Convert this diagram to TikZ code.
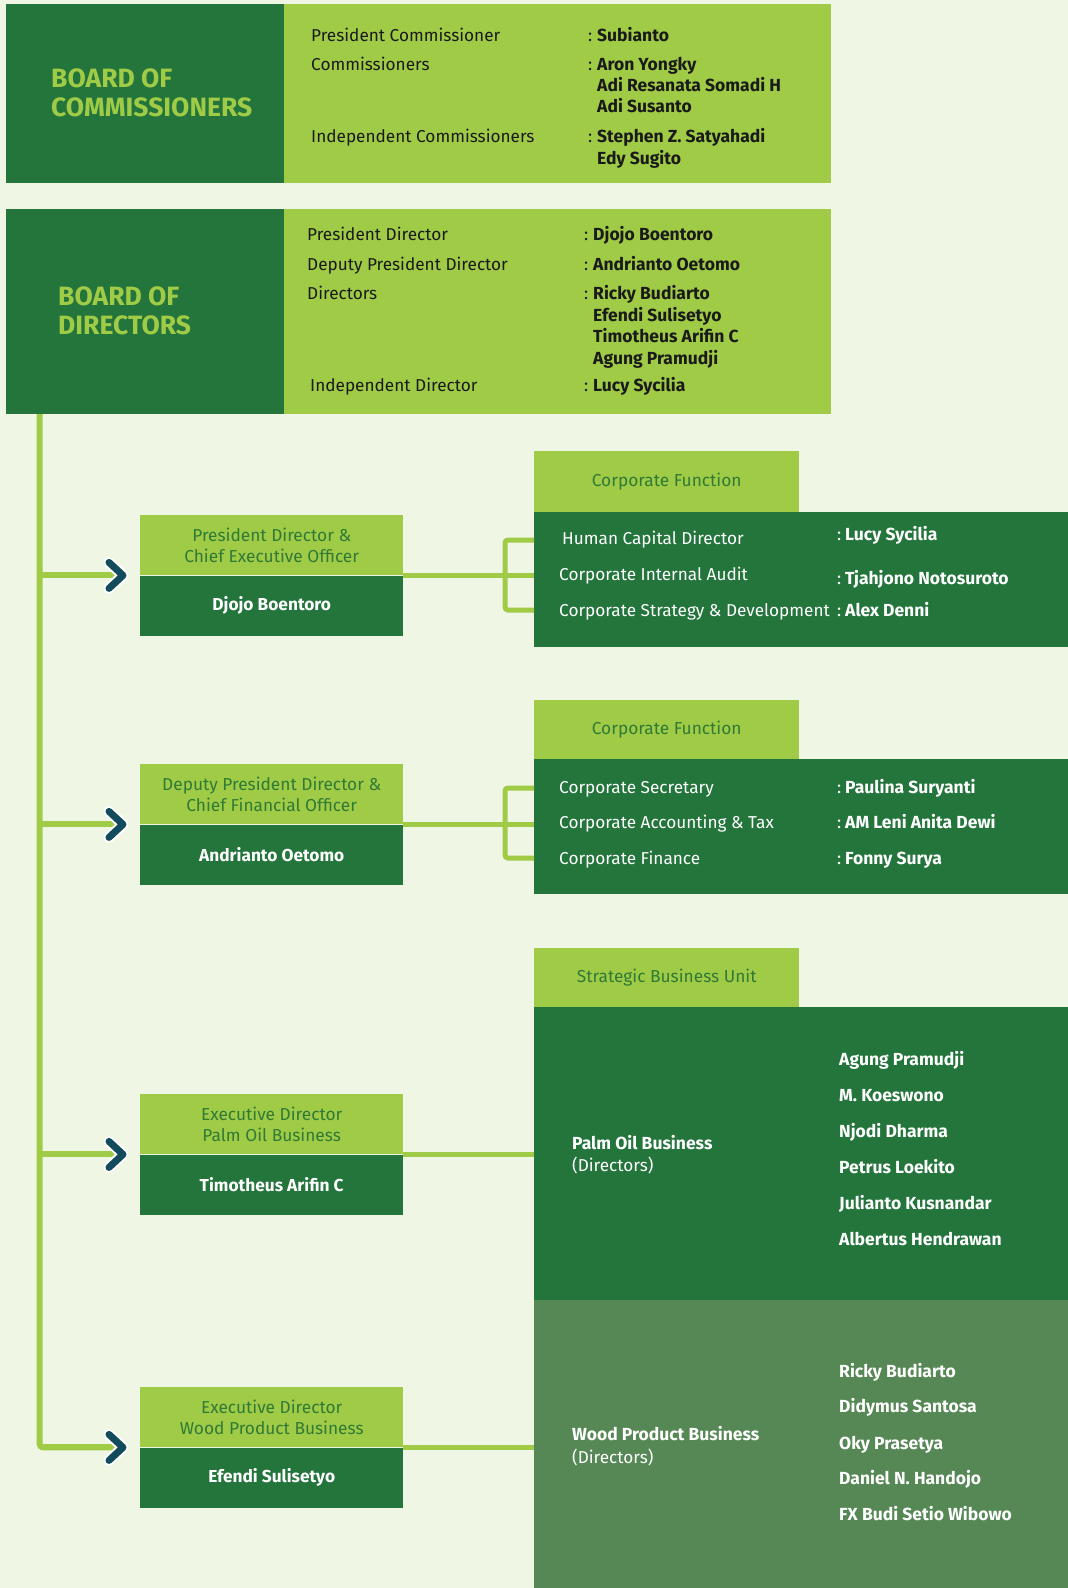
\documentclass[tikz,border=0pt]{standalone}
\usepackage{fontspec}
\setmainfont{Fira Sans}
\usetikzlibrary{positioning}

\definecolor{bgcol}{HTML}{EFF6E3}
\definecolor{darkgreen}{HTML}{23753C}
\definecolor{lightgreen}{HTML}{A0CB46}
\definecolor{woodgreen}{HTML}{558855}
\definecolor{hdrtext}{HTML}{2F7A36}
\definecolor{chevcol}{HTML}{124B5C}
\definecolor{inkcol}{HTML}{1A1A1A}

\tikzset{
	darkbox/.style={fill=darkgreen, inner sep=0pt, anchor=north west},
	lightbox/.style={fill=lightgreen, inner sep=0pt, anchor=north west},
	boardtitle/.style={anchor=west, align=left, inner sep=0pt, text=lightgreen,
		font=\fontsize{26.5}{29}\selectfont\bfseries},
	rolehead/.style={lightbox, minimum width=263pt, minimum height=60pt, align=center,
		text=hdrtext, font=\fontsize{17.3}{21.5}\selectfont},
	rolename/.style={fill=darkgreen, inner sep=0pt, minimum width=263pt, minimum height=60pt,
		text=white, font=\fontsize{17.3}{20}\selectfont\bfseries},
	unithead/.style={lightbox, minimum width=265pt, minimum height=60pt,
		text=hdrtext, font=\fontsize{17.3}{20}\selectfont},
	lbl/.style={anchor=mid west, inner sep=0pt, yshift=-4pt, text=inkcol, font=\fontsize{17.2}{20}\selectfont},
	who/.style={lbl, font=\fontsize{17.5}{20}\selectfont\bfseries},
	spine/.style={draw=lightgreen, line width=6pt},
	link/.style={draw=lightgreen, line width=5pt},
	chevronhalo/.style={draw=white, line width=11pt, line cap=round, line join=round},
	chevron/.style={draw=chevcol, line width=7pt, line cap=round, line join=round}
}

\begin{document}
\begin{tikzpicture}[x=1pt,y=-1pt]
	\useasboundingbox (0,0) rectangle (1068,1588);
	\fill[bgcol] (0,0) rectangle (1068,1588);
	
	% Board of Commissioners
	\node[darkbox, minimum width=278pt, minimum height=179pt] (boc) at (6,4) {};
	\node[lightbox, minimum width=547pt, minimum height=179pt] (boc-list) at (284,4) {};
	\node[boardtitle] (boc-title) at (51,93) {BOARD OF\\COMMISSIONERS};
	\foreach \y/\txt [count=\i] in {35/President Commissioner, 64/Commissioners, 136/Independent Commissioners} {
		\node[lbl] (boc-l\i) at (311,\y) {\txt};
		\node[lbl] (boc-c\i) at (588,\y) {:};
	}
	\foreach \y/\txt [count=\i] in {35/Subianto, 64/Aron Yongky, 85/Adi Resanata Somadi H, 106/Adi Susanto, 136/Stephen Z. Satyahadi, 158/Edy Sugito} {
		\node[who] (boc-n\i) at (597,\y) {\txt};
	}
	
	% Board of Directors
	\node[darkbox, minimum width=278pt, minimum height=205pt] (bod) at (6,209) {};
	\node[lightbox, minimum width=547pt, minimum height=205pt] (bod-list) at (284,209) {};
	\node[boardtitle] (bod-title) at (58,311) {BOARD OF\\DIRECTORS};
	\foreach \x/\y/\txt [count=\i] in {307/234/President Director, 307/264/Deputy President Director, 307/293/Directors, 310/385/Independent Director} {
		\node[lbl] (bod-l\i) at (\x,\y) {\txt};
		\node[lbl] (bod-c\i) at (584,\y) {:};
	}
	\foreach \y/\txt [count=\i] in {234/Djojo Boentoro, 264/Andrianto Oetomo, 293/Ricky Budiarto, 315/Efendi Sulisetyo, 336/Timotheus Arifin C, 358/Agung Pramudji, 385/Lucy Sycilia} {
		\node[who] (bod-n\i) at (593,\y) {\txt};
	}
	
	% Direksi und ihre Bereiche
	\foreach \id/\ytop/\head/\name in {
		ceo/515/{President Director \&\\Chief Executive Officer}/Djojo Boentoro,
		cfo/764/{Deputy President Director \&\\Chief Financial Officer}/Andrianto Oetomo,
		pob/1094/{Executive Director\\Palm Oil Business}/Timotheus Arifin C,
		wpb/1387/{Executive Director\\Wood Product Business}/Efendi Sulisetyo} {
		\node[rolehead] (\id-head) at (140,\ytop) {\head};
		\node[rolename, below=0pt of \id-head] (\id) {\name};
	}
	
	% Corporate Function (CEO)
	\node[unithead, minimum height=61pt] (cf1-head) at (534,451) {Corporate Function};
	\node[darkbox, minimum width=534pt, minimum height=135pt] (cf1) at (534,512) {};
	\foreach \x/\y/\txt [count=\i] in {562/538/Human Capital Director, 559/574/Corporate Internal Audit, 559/610/Corporate Strategy \& Development} {
		\node[lbl, text=white] (cf1-r\i) at (\x,\y) {\txt};
	}
	\foreach \y/\txt [count=\i] in {534/Lucy Sycilia, 578/Tjahjono Notosuroto, 610/Alex Denni} {
		\node[lbl, text=white] (cf1-c\i) at (837,\y) {:};
		\node[who, text=white] (cf1-n\i) at (845,\y) {\txt};
	}
	
	% Corporate Function (CFO)
	\node[unithead, minimum height=59pt] (cf2-head) at (534,700) {Corporate Function};
	\node[darkbox, minimum width=534pt, minimum height=135pt] (cf2) at (534,759) {};
	\foreach \y/\txt/\who [count=\i] in {787/Corporate Secretary/Paulina Suryanti, 822/Corporate Accounting \& Tax/AM Leni Anita Dewi, 858/Corporate Finance/Fonny Surya} {
		\node[lbl, text=white] (cf2-r\i) at (559,\y) {\txt};
		\node[lbl, text=white] (cf2-c\i) at (837,\y) {:};
		\node[who, text=white] (cf2-n\i) at (845,\y) {\who};
	}
	
	% Strategic Business Unit
	\node[unithead, minimum height=59pt] (sbu-head) at (534,948) {Strategic Business Unit};
	\node[darkbox, minimum width=534pt, minimum height=293pt] (pob-panel) at (534,1007) {};
	\node[darkbox, fill=woodgreen, minimum width=534pt, minimum height=288pt] (wpb-panel) at (534,1300) {};
	\node[who, text=white] (pob-unit) at (572,1143) {Palm Oil Business};
	\node[lbl, text=white] (pob-sub) at (572,1165) {(Directors)};
	\node[who, text=white] (wpb-unit) at (572,1434) {Wood Product Business};
	\node[lbl, text=white] (wpb-sub) at (572,1457) {(Directors)};
	\foreach \y/\txt [count=\i] in {1059/Agung Pramudji, 1095/M. Koeswono, 1131/Njodi Dharma, 1167/Petrus Loekito, 1203/Julianto Kusnandar, 1239/Albertus Hendrawan} {
		\node[who, text=white] (pob-n\i) at (839,\y) {\txt};
	}
	\foreach \y/\txt [count=\i] in {1371/Ricky Budiarto, 1406/Didymus Santosa, 1443/Oky Prasetya, 1478/Daniel N. Handojo, 1514/FX Budi Setio Wibowo} {
		\node[who, text=white] (wpb-n\i) at (839,\y) {\txt};
	}
	
	% Verbindungen nach rechts
	\draw[link] (ceo-head.south east) -- (ceo-head.south east -| cf1.west);
	\draw[link, rounded corners=3pt] (cf1.west |- 0,540) -- ++(-29,0) |- (cf1.west |- 0,610);
	\draw[link] (cfo-head.south east) -- (cfo-head.south east -| cf2.west);
	\draw[link, rounded corners=3pt] (cf2.west |- 0,788) -- ++(-29,0) |- (cf2.west |- 0,858);
	\draw[link] (pob-head.south east) -- (pob-head.south east -| pob-panel.west);
	\draw[link] (wpb-head.south east) -- (wpb-head.south east -| wpb-panel.west);
	
	% Hauptlinie mit Pfeilen
	\coordinate (spine-top) at (39.5,414);
	\foreach \id in {ceo,cfo,pob,wpb} {
		\coordinate (\id-tip) at ([xshift=-17pt]\id-head.south west);
	}
	\draw[spine, rounded corners=4pt] (spine-top) |- ([xshift=-6pt]wpb-tip);
	\foreach \id in {ceo,cfo,pob,wpb} {
		\draw[spine] (spine-top |- \id-tip) -- ([xshift=-6pt]\id-tip);
		\draw[chevronhalo] ([shift={(-14pt,13pt)}]\id-tip) -- (\id-tip) -- ([shift={(-14pt,-13pt)}]\id-tip);
		\draw[chevron] ([shift={(-14pt,13pt)}]\id-tip) -- (\id-tip) -- ([shift={(-14pt,-13pt)}]\id-tip);
	}
\end{tikzpicture}
\end{document}
